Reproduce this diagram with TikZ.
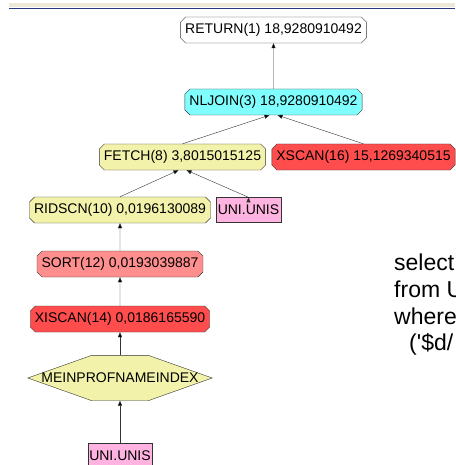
\documentclass[tikz,border=0pt]{standalone}
\usepackage{fontspec}
\setmainfont{Liberation Sans}
\usetikzlibrary{shapes.misc,arrows.meta,backgrounds}

\definecolor{planwhite}{HTML}{FFFFFF}
\definecolor{plancyan}{HTML}{80FFFF}
\definecolor{planyellow}{HTML}{F2F2AA}
\definecolor{planred}{HTML}{FF4D4D}
\definecolor{plansalmon}{HTML}{FF8F8F}
\definecolor{planpink}{HTML}{FFB3E0}
\definecolor{bandbeige}{HTML}{ECE9D8}
\definecolor{bandblue}{HTML}{2B3A80}

\begin{document}
\begin{tikzpicture}[x=1pt,y=-1pt,->,>={Triangle[length=5pt,width=4pt]},thin,node distance=55pt,
  op node/.style={chamfered rectangle,chamfered rectangle xsep=1.5pt,draw=black!80,inner xsep=3pt,inner ysep=0pt,minimum height=26pt,font=\fontsize{14}{16}\selectfont},
  table node/.style={rectangle,draw=black!80,fill=planpink,inner xsep=1.5pt,inner ysep=0pt,minimum height=25pt,font=\fontsize{14}{16}\selectfont},
  index node/.style={rectangle,inner sep=0pt,minimum width=184pt,minimum height=45pt,font=\fontsize{14}{16}\selectfont},
  query text/.style={anchor=base west,inner sep=0pt,font=\fontsize{23}{27}\selectfont}]
                        \useasboundingbox (0,0) rectangle (455,465);
                        \fill[bandbeige] (9,3.5) rectangle (455,7.5);
                        \draw[-,bandblue,line width=1.2pt] (9,8.2) -- (455,8.2);

                        \node[op node,fill=planwhite] (return) at (273.5,30) {RETURN(1) 18,9280910492};
                        \node[op node,fill=plancyan] (nljoin) [below of = return, yshift = -17] {NLJOIN(3) 18,9280910492};
                        \node[op node,fill=planyellow] (fetch) [below of = nljoin, xshift = -91] {FETCH(8) 3,8015015125};
                        \node[op node,fill=planred] (xscan) [below of = nljoin, xshift = 90] {XSCAN(16) 15,1269340515};

                        \node[op node,fill=planyellow] (ridscn) [below of = fetch, xshift = -62.5, yshift = 2] {RIDSCN(10) 0,0196130089};
                        \node[table node] (unis1) [below of = fetch, xshift = 66, yshift = 2] {UNI.UNIS};
                        \node[op node,fill=plansalmon] (sort) [below of = ridscn, yshift = 1] {SORT(12) 0,0193039887};
                        \node[op node,fill=planred] (xiscan) [below of = sort] {XISCAN(14) 0,0186165590};
                        \node[index node] (index) [below of = xiscan, yshift = -4] {MEINPROFNAMEINDEX};
                        \node[table node] (unis2) [below of = index, yshift = -22.5] {UNI.UNIS};

                        % hexagon behind the index name
                        \begin{pgfonlayer}{background}
                        \filldraw[-,draw=black!80,fill=planyellow] (index.west) -- ([xshift = 64]index.north west) -- ([xshift = -64]index.north east)
                                -- (index.east) -- ([xshift = -64]index.south east) -- ([xshift = 64]index.south west) -- cycle;
                        \end{pgfonlayer}

                        % query text on the right
                        \node[query text] (select) at (394,270) {select};
                        \node[query text] (from) at (394,297) {from U};
                        \node[query text] (where) at (394,324) {where};
                        \node[query text] (cond) at (409,350) {(\textquotesingle\$d/};

                        \path[draw=black!80]
                                (nljoin) edge (return)
                                (fetch.north) edge ([xshift = -4]nljoin.south)
                                (xscan.north) edge ([xshift = 4]nljoin.south)
                                (ridscn.north) edge ([xshift = -4]fetch.south)
                                (unis1.north) edge ([xshift = 4]fetch.south)
                                (sort) edge (ridscn)
                                (xiscan) edge (sort)
                                (index) edge (xiscan)
                                (unis2) edge (index)
                            ;
                    \end{tikzpicture}
\end{document}
